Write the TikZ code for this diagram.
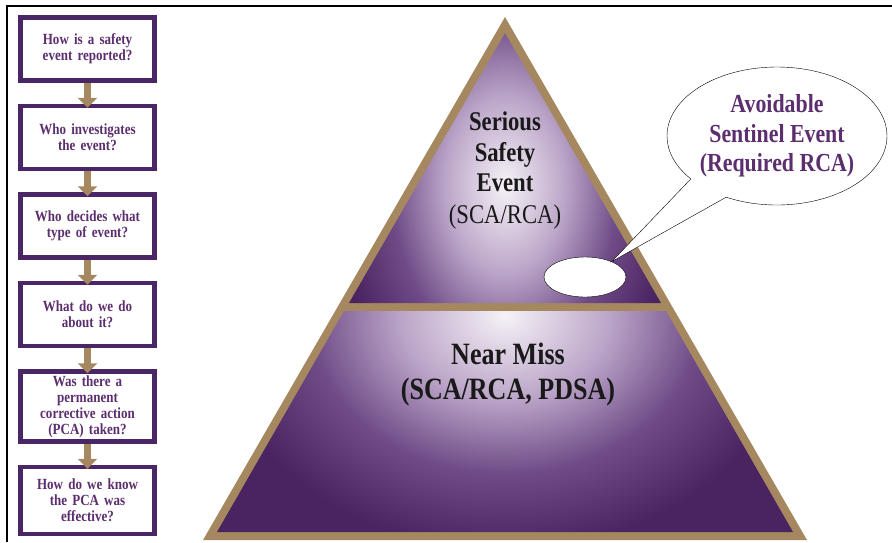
\documentclass[tikz,border=0pt]{standalone}
\usepackage{fontspec}
\setmainfont{Liberation Serif}
\newfontfamily\narrowserif[FakeStretch=0.84]{Liberation Serif}
\usepackage{tikz}
\usepackage{xcolor}
\usetikzlibrary{arrows.meta,shapes.geometric,shapes.callouts,positioning}

\definecolor{tan}{HTML}{A68860}
\definecolor{plum}{HTML}{4B2667}
\definecolor{plumtext}{HTML}{5C2E6E}
\definecolor{pyrdark}{HTML}{4A2460}
\definecolor{pyrmid}{HTML}{6E4A86}
\definecolor{pyrsoft}{HTML}{BBA5C8}
\definecolor{pyrlight}{HTML}{F6F2F7}

\pgfdeclareradialshading{pyrglow}{\pgfpoint{0bp}{0bp}}{color(0bp)=(pyrlight);
  color(5bp)=(pyrsoft); color(9.5bp)=(pyrmid); color(14bp)=(pyrdark); color(50bp)=(pyrdark)}

\tikzset{
  qbox/.style={draw=plum,line width=4.5pt,fill=white,minimum width=134pt,minimum height=63pt,
    text width=132pt,align=center,inner xsep=1pt,inner ysep=4pt,text=plumtext,
    font=\narrowserif\fontsize{15.5}{16}\selectfont\bfseries},
  flowarrow/.style={line width=7pt,draw=tan,-{Triangle[width=19pt,length=10pt]},shorten >=-4pt},
  frame/.style={line width=1.4pt}
}

\begin{document}
\begin{tikzpicture}[x=1pt,y=-1pt]
\useasboundingbox (0,0) rectangle (892,542);
\draw[frame](7,542)--(7,6)--(892,6);
% question chain
\node[qbox] (q1) at (87.5,49) {How is a safety\\event reported?};
\node[qbox,below=21pt of q1] (q2) {Who investigates\\the event?};
\node[qbox,below=21pt of q2] (q3) {Who decides what\\type of event?};
\node[qbox,below=21pt of q3] (q4) {What do we do\\about it?};
\node[qbox,below=21pt of q4] (q5) {Was there a\\permanent\\corrective action\\(PCA) taken?};
\node[qbox,below=21pt of q5,minimum height=67pt] (q6) {How do we know\\the PCA was\\effective?};
\foreach \a/\b in {q1/q2,q2/q3,q3/q4,q4/q5,q5/q6}
  \draw[flowarrow](\a)--(\b);
% pyramid
\fill[tan](505,17)--(807,540)--(203,540)--cycle;
\begin{scope}
\clip(505,33)--(661,303)--(349,303)--cycle;
\shade[shading=pyrglow](505,185)ellipse(300 and 440);
\end{scope}
\begin{scope}
\clip(344,311)--(666,311)--(793,532)--(217,532)--cycle;
\shade[shading=pyrglow](505,315)ellipse(520 and 420);
\end{scope}
\node[align=center,text=black!90,font=\narrowserif\fontsize{27}{31}\selectfont\bfseries] (serious) at (505,170)
  {Serious\\Safety\\Event\\{\mdseries(SCA/RCA)}};
\node[align=center,text=black!90,font=\narrowserif\fontsize{31}{35}\selectfont\bfseries] (nearmiss) at (508,375)
  {Near Miss\\(SCA/RCA, PDSA)};
% sentinel callout
\node[ellipse,draw,thin,fill=white,minimum width=82pt,minimum height=40pt,inner sep=0pt] (hole) at (585,277) {};
\node[ellipse callout,draw,thin,fill=white,minimum width=220pt,minimum height=138pt,inner sep=0pt,
  callout absolute pointer={(hole.30)},callout pointer arc=24,align=center,text=plumtext,
  font=\narrowserif\fontsize{26}{29.5}\selectfont\bfseries] (sentinel) at (777,136)
  {Avoidable\\Sentinel Event\\(Required RCA)};
\end{tikzpicture}
\end{document}
